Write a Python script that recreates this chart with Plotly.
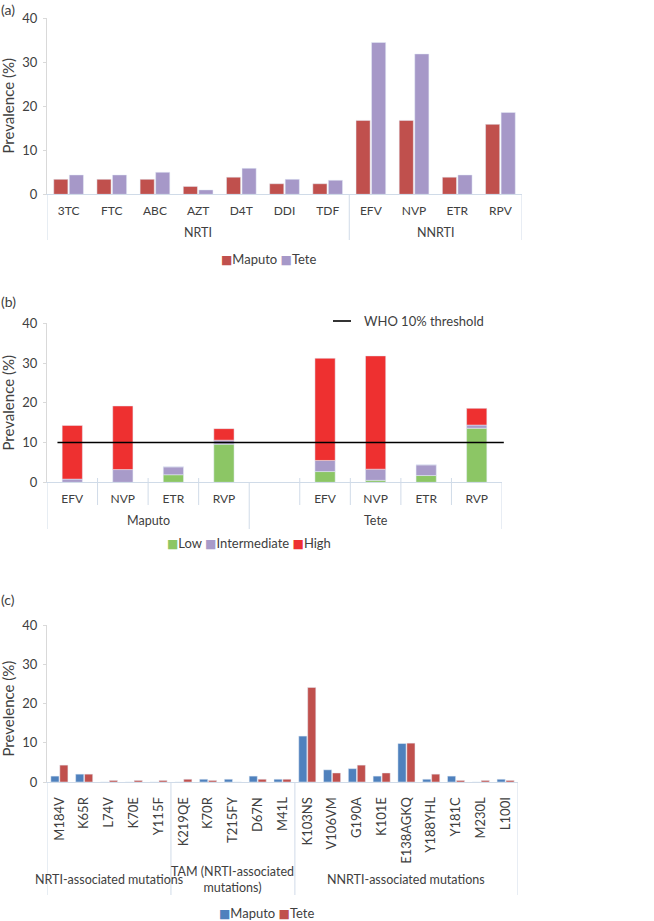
import plotly.graph_objects as go
import numpy as np

# ---------------- Panel (a) ----------------
a_groups = ["NRTI"] * 7 + ["NNRTI"] * 4
a_drugs = ["3TC", "FTC", "ABC", "AZT", "D4T", "DDI", "TDF", "EFV", "NVP", "ETR", "RPV"]
a_maputo = [3.4, 3.4, 3.4, 1.8, 3.9, 2.4, 2.4, 16.8, 16.8, 3.9, 15.9]
a_tete = [4.4, 4.4, 5.0, 1.0, 5.9, 3.4, 3.2, 34.5, 31.9, 4.4, 18.6]

# ---------------- Panel (b) ----------------
b_sites = ["Maputo"] * 4 + ["Tete"] * 5
b_drugs = ["EFV", "NVP", "ETR", "RVP", " ", "EFV", "NVP", "ETR", "RVP"]
b_low = [0, 0, 1.9, 9.6, None, 2.7, 0.5, 1.7, 13.6]
b_inter = [0.8, 3.2, 2.0, 1.0, None, 2.8, 2.8, 2.7, 0.8]
b_high = [13.5, 16.0, 0, 2.9, None, 25.7, 28.5, 0, 4.2]
who_threshold = 10

# ---------------- Panel (c) ----------------
c_groups = (["NRTI-associated mutations"] * 5
            + ["TAM (NRTI-associated<br>mutations)"] * 5
            + ["NNRTI-associated mutations"] * 9)
c_mut = ["M184V", "K65R", "L74V", "K70E", "Y115F",
         "K219QE", "K70R", "T215FY", "D67N", "M41L",
         "K103NS", "V106VM", "G190A", "K101E", "E138AGKQ", "Y188YHL", "Y181C", "M230L", "L100I"]
c_maputo = [1.5, 2.0, 0, 0, 0, 0, 0.7, 0.7, 1.5, 0.7,
            11.7, 3.1, 3.4, 1.5, 9.8, 0.7, 1.5, 0, 0.7]
c_tete = [4.3, 2.0, 0.4, 0.4, 0.4, 0.7, 0.4, 0, 0.7, 0.7,
          24.1, 2.3, 4.3, 2.3, 9.9, 2.0, 0.4, 0.4, 0.4]

HFONT = "Lato, sans-serif"
TXT = "#404040"
AXC = "#D9D9D9"
XLC = "#D0DBE8"
W, H = 654, 921

def px(p):
    return p / W

def py(p):
    return 1 - p / H

fig = go.Figure()

xa = np.arange(len(a_drugs))
xb = np.arange(len(b_drugs))
xc = np.arange(len(c_mut))

# (a)
fig.add_trace(go.Bar(x=xa, y=a_maputo, name="Maputo", marker_color="#C0504D",
                     xaxis="x", yaxis="y", showlegend=False))
fig.add_trace(go.Bar(x=xa, y=a_tete, name="Tete", marker_color="#A698C8",
                     xaxis="x", yaxis="y", showlegend=False))

# (b) stacked via base
low = np.array(b_low, dtype=float)
inter = np.array(b_inter, dtype=float)
high = np.array(b_high, dtype=float)
B_COLORS = {"Low": "#8CC665", "Intermediate": "#A89BC9", "High": "#EE3030"}
for name, vals, base in [("Low", low, np.zeros_like(low)),
                         ("Intermediate", inter, low),
                         ("High", high, low + inter)]:
    fig.add_trace(go.Bar(x=xb, y=vals, base=base, name=name,
                         marker_color=B_COLORS[name], width=0.4, offsetgroup="b",
                         xaxis="x2", yaxis="y2", showlegend=False))

# (c)
fig.add_trace(go.Bar(x=xc, y=c_maputo, name="Maputo", marker_color="#4F81BD",
                     xaxis="x3", yaxis="y3", showlegend=False))
fig.add_trace(go.Bar(x=xc, y=c_tete, name="Tete", marker_color="#C0504D",
                     xaxis="x3", yaxis="y3", showlegend=False))

# WHO threshold line
fig.add_shape(type="line", xref="x2 domain", yref="y2", x0=0.023, x1=1.004,
              y0=who_threshold, y1=who_threshold, line=dict(color="black", width=1.5))

tickfont_h = dict(family=HFONT, size=12, color=TXT)
tickfont_v = dict(family=HFONT, size=13, color=TXT)

def xax(dom, anchor, n, labels, font, standoff, angle=0):
    return dict(domain=dom, anchor=anchor, range=[-0.5, n - 0.5],
                tickmode="array", tickvals=list(range(n)), ticktext=labels,
                tickangle=angle, ticks="", showline=True, linecolor=XLC, linewidth=1,
                showgrid=False, zeroline=False, tickfont=font,
                ticklabelstandoff=standoff, automargin=False)

def yax(dom, anchor):
    return dict(domain=dom, anchor=anchor, range=[0, 40], dtick=10, showline=True,
                linecolor=AXC, linewidth=1, ticks="outside", ticklen=3, tickcolor=AXC,
                showgrid=False, zeroline=False, tickfont=dict(family=HFONT, size=13, color=TXT),
                ticklabelstandoff=3, automargin=False)

# panel geometry (page pixels)
A = dict(x0=47, x1=522, top=18.3, bot=194.3)
Bp = dict(x0=47, x1=502, top=323.3, bot=482.3)
C = dict(x0=47, x1=518, top=625, bot=782)

fig.update_layout(
    width=W, height=H, margin=dict(l=0, r=0, t=0, b=0),
    paper_bgcolor="white", plot_bgcolor="white",
    barmode="group", bargap=0.28, bargroupgap=0.09,
    xaxis=xax([px(A["x0"]), px(A["x1"])], "y", len(a_drugs), a_drugs, tickfont_h, 5),
    yaxis=yax([py(A["bot"]), py(A["top"])], "x"),
    xaxis2=xax([px(Bp["x0"]), px(Bp["x1"])], "y2", len(b_drugs), b_drugs, tickfont_h, 5),
    yaxis2=yax([py(Bp["bot"]), py(Bp["top"])], "x2"),
    xaxis3=xax([px(C["x0"]), px(C["x1"])], "y3", len(c_mut), c_mut, tickfont_v, 9, angle=-90),
    yaxis3=yax([py(C["bot"]), py(C["top"])], "x3"),
    showlegend=False,
)

# group labels and dividers
def groups_of(labels):
    out = []
    start = 0
    for i in range(1, len(labels) + 1):
        if i == len(labels) or labels[i] != labels[start]:
            out.append((labels[start], start, i - 1))
            start = i
    return out

def add_groups(labels, xref, axis_y, div_bottom, label_y, short_ticks=None):
    grps = groups_of(labels)
    bounds = [grps[0][1] - 0.5] + [g[2] + 0.5 for g in grps]
    for bx in bounds:
        fig.add_shape(type="line", xref=xref, yref="paper", x0=bx, x1=bx,
                      y0=py(axis_y), y1=py(div_bottom), line=dict(color=XLC, width=1))
    for name, s, e in grps:
        fig.add_annotation(text=name, xref=xref, yref="paper", x=(s + e) / 2, y=py(label_y),
                           xanchor="center", yanchor="middle", showarrow=False,
                           font=dict(family=HFONT, size=12.5, color=TXT))
        if short_ticks:
            for k in range(s, e):
                fig.add_shape(type="line", xref=xref, yref="paper", x0=k + 0.5, x1=k + 0.5,
                              y0=py(short_ticks[0]), y1=py(short_ticks[1]),
                              line=dict(color=XLC, width=1))

add_groups(a_groups, "x", A["bot"], 240, 232)
add_groups(b_sites, "x2", Bp["bot"], 529, 520.7, short_ticks=(478, 505))
add_groups(c_groups, "x3", C["bot"], 895, 879.5)

# y titles
for title, ycen in [("Prevalence (%)", 106), ("Prevalence (%)", 403), ("Prevelence (%)", 709)]:
    fig.add_annotation(text=title, xref="paper", yref="paper", x=px(7.5), y=py(ycen),
                       xanchor="center", yanchor="middle", textangle=-90, showarrow=False,
                       font=dict(family=HFONT, size=15, color=TXT))

# panel letters
for txt, ytop in [("(a)", 0), ("(b)", 292), ("(c)", 590)]:
    fig.add_annotation(text=txt, xref="paper", yref="paper", x=0, y=py(ytop),
                       xanchor="left", yanchor="top", showarrow=False, borderpad=0,
                       font=dict(family=HFONT, size=14, color=TXT))

# legends (text keys)
def sq(color):
    return "<span style='color:%s;font-family:DejaVu Sans;font-size:12px'>■</span>" % color

legend_font = dict(family=HFONT, size=13, color=TXT)
fig.add_annotation(text=sq("#C0504D") + "Maputo " + sq("#A698C8") + "Tete",
                   xref="paper", yref="paper", x=px(268), y=py(259), xanchor="center",
                   yanchor="middle", showarrow=False, font=legend_font)
fig.add_annotation(text=sq(B_COLORS["Low"]) + "Low " + sq(B_COLORS["Intermediate"])
                   + "Intermediate " + sq(B_COLORS["High"]) + "High",
                   xref="paper", yref="paper", x=px(249), y=py(542.7), xanchor="center",
                   yanchor="middle", showarrow=False, font=legend_font)
fig.add_annotation(text=sq("#4F81BD") + "Maputo " + sq("#C0504D") + "Tete",
                   xref="paper", yref="paper", x=px(266.5), y=py(913), xanchor="center",
                   yanchor="middle", showarrow=False, font=legend_font)
# threshold key
fig.add_shape(type="line", xref="paper", yref="paper", x0=px(333), x1=px(351),
              y0=py(321), y1=py(321), line=dict(color="black", width=1.6))
fig.add_annotation(text="WHO 10% threshold", xref="paper", yref="paper", x=px(362), y=py(321),
                   xanchor="left", yanchor="middle", showarrow=False, font=legend_font)

fig.write_html("out.html", config={"displayModeBar": False},
               post_script="document.body.style.margin='0px';")
